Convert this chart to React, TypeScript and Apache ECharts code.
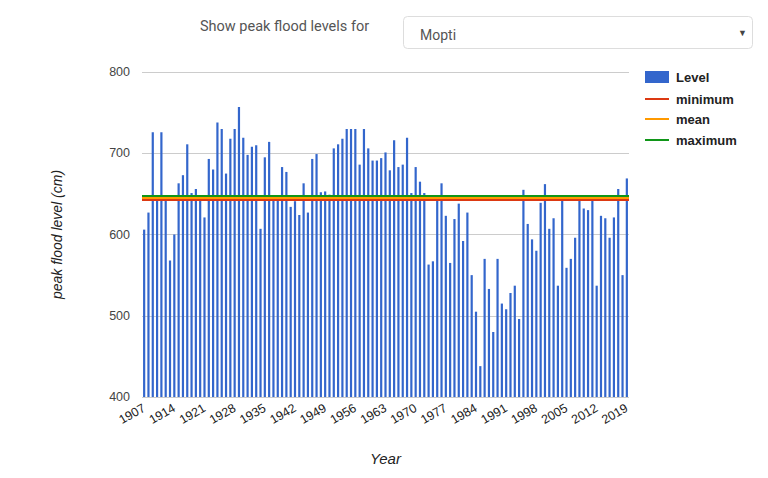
import React, { useEffect, useRef } from "react";
import * as echarts from "echarts";

const startYear = 1907;
const endYear = 2019;
const years: string[] = [];
for (let y = startYear; y <= endYear; y++) years.push(String(y));

const levels1907to1935: number[] = [
  606, 627, 726, 645, 726, 644, 568, 600, 663, 673, 711, 651, 656, 644, 621,
  693, 680, 738, 730, 675, 718, 730, 757, 719, 698, 708, 710, 607, 695,
];
const levels1936to1963: number[] = [
  714, 645, 645, 683, 677, 634, 641, 624, 663, 627, 693, 699, 652, 653, 649,
  706, 711, 718, 730, 730, 730, 686, 730, 706, 691, 691, 694, 701,
];
const levels1964to1991: number[] = [
  679, 716, 683, 686, 719, 651, 683, 665, 651, 563, 567, 648, 663, 623, 565,
  619, 638, 592, 627, 550, 505, 438, 570, 533, 480, 570, 515, 508,
];
const levels1992to2019: number[] = [
  528, 537, 496, 655, 613, 594, 580, 639, 662, 607, 620, 537, 645, 559, 570,
  596, 645, 632, 630, 645, 537, 623, 620, 596, 621, 656, 550, 669,
];
const levels: number[] = [
  ...levels1907to1935,
  ...levels1936to1963,
  ...levels1964to1991,
  ...levels1992to2019,
];

const minimumLevel = 643;
const meanLevel = 645.5;
const maximumLevel = 648;

const yTicks = { min: 400, max: 800, step: 100 };

const FONT = "'Liberation Sans', Arial, sans-serif";
const UI_FONT = "Roboto, 'Open Sans', sans-serif";
const C_BAR = "#3366cc";
const C_MIN = "#dc3912";
const C_MEAN = "#ff9900";
const C_MAX = "#109618";

function refLine(name: string, value: number, color: string) {
  return {
    name,
    type: "line",
    data: [],
    markLine: {
      silent: true,
      symbol: "none",
      label: { show: false },
      lineStyle: { color, width: 2, type: "solid" },
      data: [{ yAxis: value }],
    },
  };
}

export default function App() {
  const ref = useRef<HTMLDivElement>(null);

  useEffect(() => {
    if (!ref.current) return;
    const chart = echarts.init(ref.current, undefined, { renderer: "svg" });
    const legendItems = [
      { name: "minimum", color: C_MIN, y: 99 },
      { name: "mean", color: C_MEAN, y: 119 },
      { name: "maximum", color: C_MAX, y: 140 },
    ];
    const option: any = {
      animation: false,
      textStyle: { fontFamily: FONT },
      grid: { left: 142, top: 72, width: 487, height: 325, containLabel: false },
      xAxis: {
        type: "category",
        data: years,
        axisLine: { show: false },
        axisTick: { show: false },
        axisLabel: {
          interval: 6,
          rotate: 30,
          color: "#222",
          fontSize: 12.5,
          fontFamily: FONT,
          margin: 10,
        },
        name: "Year",
        nameLocation: "middle",
        nameGap: 54,
        nameTextStyle: { fontStyle: "italic", fontSize: 15, color: "#222", fontFamily: FONT },
      },
      yAxis: {
        type: "value",
        min: yTicks.min,
        max: yTicks.max,
        interval: yTicks.step,
        axisLine: { show: false },
        axisTick: { show: false },
        axisLabel: { color: "#444", fontSize: 12.5, margin: 12, fontFamily: FONT },
        splitLine: { lineStyle: { color: "#cccccc", width: 1 } },
        name: "peak flood level (cm)",
        nameLocation: "middle",
        nameRotate: 90,
        nameGap: 78,
        nameTextStyle: { fontStyle: "italic", fontSize: 14, color: "#222", fontFamily: FONT },
      },
      series: [
        {
          name: "Level",
          type: "bar",
          data: levels,
          barWidth: 2.2,
          itemStyle: { color: C_BAR },
        },
        refLine("minimum", minimumLevel, C_MIN),
        refLine("mean", meanLevel, C_MEAN),
        refLine("maximum", maximumLevel, C_MAX),
      ],
      graphic: [
        {
          type: "text",
          left: 200,
          top: 19,
          style: {
            text: "Show peak flood levels for",
            fill: "#555",
            font: `14.5px ${UI_FONT}`,
          },
        },
        {
          type: "rect",
          shape: { x: 403.5, y: 16.5, width: 349, height: 32, r: 4 },
          style: { fill: "#fff", stroke: "#dddddd", lineWidth: 1 },
        },
        {
          type: "text",
          left: 420,
          top: 28,
          style: { text: "Mopti", fill: "#555", font: `14px ${UI_FONT}` },
        },
        {
          type: "text",
          left: 738,
          top: 28,
          style: { text: "▼", fill: "#444", font: `9px ${FONT}` },
        },
        {
          type: "rect",
          shape: { x: 645, y: 71, width: 24, height: 12 },
          style: { fill: C_BAR },
        },
        {
          type: "text",
          x: 676,
          y: 77,
          style: {
            text: "Level",
            fill: "#222",
            font: `bold 13px ${FONT}`,
            verticalAlign: "middle",
          },
        },
        ...legendItems.flatMap((it) => [
          {
            type: "line",
            shape: { x1: 645, y1: it.y, x2: 669, y2: it.y },
            style: { stroke: it.color, lineWidth: 2 },
          },
          {
            type: "text",
            x: 676,
            y: it.y,
            style: {
              text: it.name,
              fill: "#222",
              font: `bold 13px ${FONT}`,
              verticalAlign: "middle",
            },
          },
        ]),
      ],
    };
    chart.setOption(option);
    return () => chart.dispose();
  }, []);

  return (
    <div
      ref={ref}
      style={{ position: "absolute", left: 0, top: 0, width: 768, height: 478, background: "#fff" }}
    />
  );
}
